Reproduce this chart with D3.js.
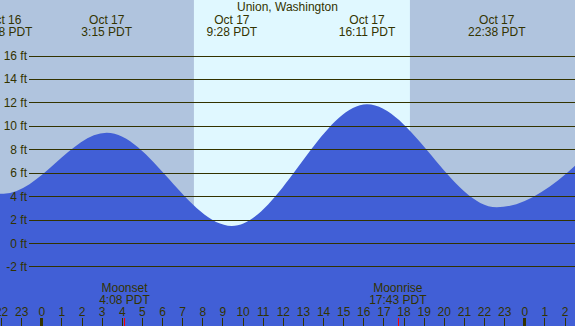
<!DOCTYPE html>
<html>
<head>
<meta charset="utf-8">
<script src="https://cdn.jsdelivr.net/npm/d3@7"></script>
<style>
  body { margin: 0; padding: 0; background: #b0c4de; }
  svg { display: block; font-family: "Liberation Sans", Arial, sans-serif; }
  text { fill: #333300; font-size: 12px; }
</style>
</head>
<body>
<div id="tide"></div>
<script>

// tide chart for Union, Washington

const width = 575;
const height = 326;

const title = "Union, Washington";

// high / low tides
const extremeDays = ["Oct 16", "Oct 16", "Oct 17", "Oct 17", "Oct 17", "Oct 17", "Oct 18"];
const extremeTimes = ["15:50", "22:08", "3:15", "9:28", "16:11", "22:38", "4:40"];
const extremeHeights = [10.8, 4.2, 9.4, 1.45, 11.85, 3.05, 10.3];

// sun and moon (Oct 17)
const sunTimes = ["7:35", "18:19"];
const moonNames = ["Moonset", "Moonrise"];
const moonTimes = ["4:08", "17:43"];

const feetTicks = [-2, 0, 2, 4, 6, 8, 10, 12, 14, 16];

// hours since Oct 17 00:00
const dayOffset = { "Oct 16": -24, "Oct 17": 0, "Oct 18": 24 };
function toHours(day, t) {
  let p = t.split(":");
  return dayOffset[day] + (+p[0]) + (+p[1]) / 60;
}

const tides = extremeTimes.map((t, i) => ({
  day: extremeDays[i],
  time: t,
  h: toHours(extremeDays[i], t),
  ft: extremeHeights[i]
}));

const xScale = d3.scaleLinear()
  .domain([-2.053, 26.52])
  .range([0, width]);

const yScale = d3.scaleLinear()
  .domain([0, 16])
  .range([243, 55.5]);

const svg = d3.select("#tide")
  .append("svg")
  .attr("width", width)
  .attr("height", height);

// night background + daylight band
svg.append("rect")
  .attr("width", width).attr("height", height)
  .attr("fill", "#b0c4de");

let sunrise = toHours("Oct 17", sunTimes[0]);
let sunset = toHours("Oct 17", sunTimes[1]);
svg.append("rect")
  .attr("x", xScale(sunrise))
  .attr("y", 0)
  .attr("width", xScale(sunset) - xScale(sunrise))
  .attr("height", height)
  .attr("fill", "#e0f8ff");

// water
const area = d3.area()
  .x((d) => xScale(d.h))
  .y0(height)
  .y1((d) => yScale(d.ft))
  .curve(d3.curveMonotoneX);

svg.append("path")
  .datum(tides)
  .attr("d", area)
  .attr("fill", "#415fd6");

// height grid lines and labels
const grid = svg.append("g");
grid.selectAll("line")
  .data(feetTicks)
  .enter()
  .append("line")
    .attr("x1", 29)
    .attr("x2", width)
    .attr("y1", (d) => Math.round(yScale(d)) + 0.5)
    .attr("y2", (d) => Math.round(yScale(d)) + 0.5)
    .attr("stroke", "#333300")
    .attr("stroke-width", 1);

grid.selectAll("text")
  .data(feetTicks)
  .enter()
  .append("text")
    .attr("x", 27)
    .attr("y", (d) => yScale(d) + 4.5)
    .attr("text-anchor", "end")
    .attr("font-size", "12.5px")
    .text((d) => d + " ft");

// title
svg.append("text")
  .attr("x", width / 2)
  .attr("y", 11)
  .attr("text-anchor", "middle")
  .attr("font-size", "13px")
  .text(title);

// labels for each high / low (only the ones that reach the picture)
const shown = tides.filter((d) => xScale(d.h) > -25 && xScale(d.h) < width + 25);

const tideLabels = svg.append("g")
  .selectAll("g")
  .data(shown)
  .enter()
  .append("g")
    .attr("transform", (d) => `translate(${xScale(d.h)},0)`);

tideLabels.append("text")
  .attr("y", 24)
  .attr("text-anchor", "middle")
  .attr("font-size", "12.5px")
  .text((d) => d.day);

tideLabels.append("text")
  .attr("y", 36)
  .attr("text-anchor", "middle")
  .attr("font-size", "12.5px")
  .text((d) => d.time + " PDT");

// hour axis along the bottom
let hours = d3.range(-2, 27);
const xAxis = d3.axisBottom(xScale)
  .tickValues(hours)
  .tickFormat((d) => ((d % 24) + 24) % 24)
  .tickSize(0);

const axisG = svg.append("g")
  .attr("transform", "translate(0,300)")
  .call(xAxis);
axisG.select(".domain").remove();
axisG.selectAll("text")
  .attr("y", 16)
  .attr("dy", 0)
  .attr("font-size", "12.5px")
  .attr("font-family", "Liberation Sans, Arial, sans-serif")
  .attr("fill", "#333300");

svg.append("g")
  .selectAll("line")
  .data(hours)
  .enter()
  .append("line")
    .attr("x1", (d) => Math.round(xScale(d)) + 0.5)
    .attr("x2", (d) => Math.round(xScale(d)) + 0.5)
    .attr("y1", 318)
    .attr("y2", height)
    .attr("stroke", "#333300")
    .attr("stroke-width", (d) => (d % 24 === 0 ? 3 : 1));

// moonset / moonrise
const moon = moonTimes.map((t, i) => ({ name: moonNames[i], time: t, h: toHours("Oct 17", t) }));

svg.append("g")
  .selectAll("line")
  .data(moon)
  .enter()
  .append("line")
    .attr("x1", (d) => Math.round(xScale(d.h)) + 0.5)
    .attr("x2", (d) => Math.round(xScale(d.h)) + 0.5)
    .attr("y1", 318)
    .attr("y2", height)
    .attr("stroke", "#ff0000");

const moonLabels = svg.append("g")
  .selectAll("g")
  .data(moon)
  .enter()
  .append("g")
    .attr("transform", (d) => `translate(${xScale(d.h)},0)`);

moonLabels.append("text")
  .attr("y", 291.5)
  .attr("text-anchor", "middle")
  .attr("font-size", "12.5px")
  .text((d) => d.name);

moonLabels.append("text")
  .attr("y", 303.5)
  .attr("text-anchor", "middle")
  .attr("font-size", "12.5px")
  .text((d) => d.time + " PDT");

</script>
</body>
</html>
